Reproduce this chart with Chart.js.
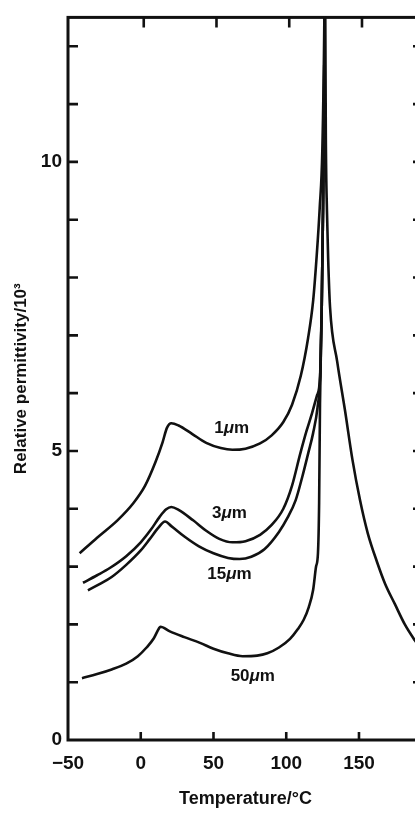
<!DOCTYPE html>
<html>
<head>
<meta charset="utf-8">
<script src="https://cdn.jsdelivr.net/npm/chart.js@4.4.1/dist/chart.umd.min.js"></script>
<style>
  html, body { margin: 0; padding: 0; background: #fff; overflow: hidden; }
  #wrap { width: 430px; height: 814px; }
</style>
</head>
<body>
<div id="wrap"><canvas id="chart" width="430" height="814"></canvas></div>
<script>
  "use strict";

  // 温度 (°C) と比誘電率 (/10^3) — 粒径ごとの曲線（Tc 以下）
  var temp1 = [-42, -30, -16, -5, 3, 10, 15, 18, 21, 26, 35, 45, 55, 63, 72, 82, 90, 98, 104, 110, 115, 118.5, 121, 123, 124.8, 126.2, 126.6];
  var eps1  = [3.23, 3.5, 3.8, 4.1, 4.4, 4.8, 5.15, 5.4, 5.48, 5.44, 5.3, 5.14, 5.05, 5.02, 5.04, 5.13, 5.27, 5.5, 5.8, 6.3, 6.95, 7.6, 8.4, 9.2, 10.2, 12.5, 14];

  var temp3 = [-39.7, -30, -21, -10, 0, 7, 13, 17.5, 21, 26, 36, 45, 54, 63, 72, 82, 90, 98, 104, 109.5, 114, 117.7, 121, 123.3, 124.4, 125.3, 126, 126.6];
  var eps3  = [2.72, 2.85, 2.98, 3.18, 3.42, 3.64, 3.86, 3.99, 4.03, 3.98, 3.8, 3.62, 3.48, 3.42, 3.44, 3.55, 3.72, 4.0, 4.4, 4.94, 5.35, 5.65, 5.95, 6.3, 7.5, 9.2, 11, 14];

  var temp15 = [-36.3, -28, -20, -10, 0, 6, 12, 16.7, 21, 30, 40, 50, 60, 68, 76, 85, 95, 101, 106.5, 111, 115, 118.4, 121.5, 123.3, 124.4, 125.3, 126, 126.6];
  var eps15  = [2.59, 2.7, 2.82, 3.03, 3.28, 3.47, 3.67, 3.78, 3.7, 3.52, 3.35, 3.23, 3.15, 3.13, 3.17, 3.3, 3.6, 3.85, 4.15, 4.55, 4.95, 5.3, 5.75, 6.3, 7.5, 9.2, 11, 14];

  var temp50 = [-40.4, -30, -20, -10, -2, 4, 9, 12.5, 13.5, 20, 30, 40.7, 50, 60, 70, 80, 87, 95, 102.6, 108, 112, 115.5, 118.5, 120.5, 121.8, 122.6, 123.2, 124.4, 125.3, 126, 126.6];
  var eps50  = [1.07, 1.14, 1.22, 1.32, 1.45, 1.6, 1.76, 1.93, 1.96, 1.88, 1.78, 1.68, 1.58, 1.5, 1.45, 1.46, 1.5, 1.6, 1.75, 1.92, 2.08, 2.3, 2.6, 3.0, 3.23, 4.1, 5.8, 7.5, 9.2, 11, 14];

  // Tc 以上の共通ブランチ
  var tempHigh = [126.6, 127.2, 128, 128.8, 130.1, 135, 140.4, 145.5, 150.7, 156, 162.4, 168, 174.7, 181.5, 188.5, 196];
  var epsHigh  = [14, 10.5, 9.14, 8.34, 7.49, 6.55, 5.7, 4.85, 4.15, 3.58, 3.08, 2.7, 2.35, 2.0, 1.72, 1.45];

  // 曲線ラベル
  var labelSize = ['1', '3', '15', '50'];
  var labelTemp = [62.5, 61, 61, 77];
  var labelEps  = [5.4, 3.93, 2.86, 1.11];

  // 目盛
  var xTickValues = [0, 50, 100, 150];
  var xLabelValues = [-50, 0, 50, 100, 150];
  var yTickValues = [1, 2, 3, 4, 5, 6, 7, 8, 9, 10, 11, 12];
  var yLabelValues = [0, 5, 10];

  var INK = '#111';
  var FONT = '"Liberation Sans", Arial, sans-serif';

  function toPoints(xs, ys) {
    return xs.map(function(x, i) { return { x: x, y: ys[i] }; });
  }

  function curve(xs, ys) {
    return {
      data: toPoints(xs, ys),
      borderColor: INK,
      borderWidth: 2.6,
      pointRadius: 0,
      fill: false,
      cubicInterpolationMode: 'monotone'
    };
  }

  var framePlugin = {
    id: 'frame',
    afterDatasetsDraw: function(chart) {
      var ctx = chart.ctx;
      var a = chart.chartArea;
      var xs = chart.scales.x;
      var ys = chart.scales.y;
      ctx.save();
      ctx.strokeStyle = INK;
      ctx.lineWidth = 3;
      ctx.strokeRect(a.left, a.top, a.right - a.left, a.bottom - a.top);

      ctx.lineWidth = 2.6;
      ctx.beginPath();
      xTickValues.forEach(function(v) {
        var px = xs.getPixelForValue(v);
        ctx.moveTo(px, a.bottom); ctx.lineTo(px, a.bottom - 8);
        ctx.moveTo(px + 3, a.top); ctx.lineTo(px + 3, a.top + 10);
      });
      yTickValues.forEach(function(v) {
        var py = ys.getPixelForValue(v);
        ctx.moveTo(a.left, py); ctx.lineTo(a.left + 10, py);
        ctx.moveTo(a.right, py); ctx.lineTo(a.right - 10, py);
      });
      ctx.stroke();

      // 粒径ラベル（μ はイタリック）
      ctx.fillStyle = INK;
      ctx.textBaseline = 'middle';
      ctx.textAlign = 'left';
      var upright = 'bold 17px ' + FONT;
      var italic = 'italic bold 17px ' + FONT;
      labelSize.forEach(function(s, i) {
        var px = xs.getPixelForValue(labelTemp[i]);
        var py = ys.getPixelForValue(labelEps[i]);
        ctx.font = upright;
        var w1 = ctx.measureText(s).width;
        var w3 = ctx.measureText('m').width;
        ctx.font = italic;
        var w2 = ctx.measureText('\u03bc').width;
        var x0 = px - (w1 + w2 + w3) / 2;
        ctx.font = upright;
        ctx.fillText(s, x0, py);
        ctx.font = italic;
        ctx.fillText('\u03bc', x0 + w1, py);
        ctx.font = upright;
        ctx.fillText('m', x0 + w1 + w2, py);
      });
      ctx.restore();
    }
  };

  var datasets = [
    curve(temp1, eps1),
    curve(temp3, eps3),
    curve(temp15, eps15),
    curve(temp50, eps50),
    curve(tempHigh, epsHigh)
  ];

  new Chart(document.getElementById('chart'), {
    type: 'line',
    data: { datasets: datasets },
    plugins: [framePlugin],
    options: {
      responsive: false,
      animation: false,
      devicePixelRatio: 1,
      layout: { padding: { top: 6, right: 7, left: 0, bottom: 0 } },
      plugins: { legend: { display: false }, tooltip: { enabled: false } },
      scales: {
        x: {
          type: 'linear',
          min: -50,
          max: 194,
          afterFit: function(s) { s.height = 74; },
          grid: { display: false, drawTicks: false },
          border: { display: false },
          ticks: {
            stepSize: 50,
            includeBounds: false,
            autoSkip: false,
            maxRotation: 0,
            padding: 12,
            color: INK,
            font: { family: FONT, size: 19, weight: 'bold' },
            callback: function(v) {
              if (xLabelValues.indexOf(v) < 0) return '';
              return v < 0 ? '\u2212' + Math.abs(v) : String(v);
            }
          },
          title: {
            display: true,
            text: 'Temperature/\u00b0C',
            color: INK,
            font: { family: FONT, size: 18, weight: 'bold' },
            padding: { top: 0, bottom: 4 }
          }
        },
        y: {
          min: 0,
          max: 12.5,
          afterFit: function(s) { s.width = 68; },
          grid: { display: false, drawTicks: false },
          border: { display: false },
          ticks: {
            stepSize: 1,
            includeBounds: false,
            autoSkip: false,
            padding: 6,
            color: INK,
            font: { family: FONT, size: 19, weight: 'bold' },
            callback: function(v) {
              return yLabelValues.indexOf(v) < 0 ? '' : String(v);
            }
          },
          title: {
            display: true,
            text: 'Relative permittivity/10\u00b3',
            color: INK,
            font: { family: FONT, size: 17, weight: 'bold' },
            padding: { top: 11, bottom: 0 }
          }
        }
      }
    }
  });
</script>
</body>
</html>
